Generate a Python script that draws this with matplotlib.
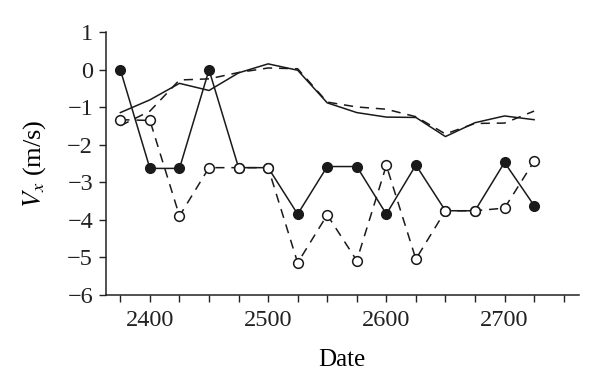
import matplotlib
matplotlib.use("Agg")
import matplotlib.pyplot as plt

plt.rcParams['font.family'] = ['Liberation Serif', 'DejaVu Serif']
plt.rcParams['mathtext.fontset'] = 'stix'

# dates (x axis)
date = [2375, 2400, 2425, 2450, 2475, 2500, 2525, 2550,
        2575, 2600, 2625, 2650, 2675, 2700, 2725]

# solid line, no markers
smooth_a = [-1.14, -0.80, -0.36, -0.55, -0.08, 0.16, -0.01, -0.88,
            -1.14, -1.26, -1.27, -1.78, -1.41, -1.23, -1.33]
# dashed line, no markers
smooth_b = [-1.49, -1.10, -0.27, -0.24, -0.07, 0.05, 0.03, -0.86,
            -0.99, -1.05, -1.25, -1.71, -1.43, -1.42, -1.10]
# solid line, filled circles
filled = [0.0, -2.63, -2.63, 0.0, -2.61, -2.61, -3.85, -2.58,
          -2.58, -3.85, -2.54, -3.76, -3.76, -2.47, -3.62]
# dashed line, open circles
opened = [-1.33, -1.35, -3.90, -2.61, -2.61, -2.61, -5.15, -3.87,
          -5.09, -2.55, -5.05, -3.76, -3.76, -3.69, -2.44]

yticks = [1, 0, -1, -2, -3, -4, -5, -6]

fig = plt.figure(figsize=(6, 3.88), dpi=100)
ax = fig.add_axes([0.176, 0.2405, 0.789, 0.676])

lw = 1.1
ax.plot(date, smooth_a, '-', color='#1a1a1a', lw=lw)
ax.plot(date, smooth_b, '--', color='#1a1a1a', lw=lw, dashes=(6, 4.5))
ax.plot(date, filled, '-', color='#1a1a1a', lw=lw, marker='o',
        markersize=7, markerfacecolor='#1a1a1a', markeredgecolor='#1a1a1a')
ax.plot(date, opened, '--', color='#1a1a1a', lw=lw, dashes=(6, 4.5), marker='o',
        markersize=7, markerfacecolor='white', markeredgecolor='#1a1a1a',
        markeredgewidth=1.1)

ax.set_xlim(2362.5, 2763)
ax.set_ylim(-6, 1)
ax.set_xticks([2400, 2500, 2600, 2700])
ax.set_xticks(range(2375, 2751, 25), minor=True)
ax.set_yticks(yticks)
ax.set_yticklabels(['1', '0', '\u22121', '\u22122', '\u22123', '\u22124', '\u22125', '\u22126'])
ax.tick_params(axis='both', which='both', direction='out', length=5, width=1,
               labelsize=17.5, colors='#222222')
ax.tick_params(axis='x', which='major', pad=6)
ax.tick_params(axis='y', pad=4)

for s in ['top', 'right']:
    ax.spines[s].set_visible(False)
for s in ['left', 'bottom']:
    ax.spines[s].set_linewidth(1.1)
    ax.spines[s].set_color('#222222')

ax.set_xlabel('Date', fontsize=18, labelpad=13)
ax.set_ylabel(r'$V_x$ (m/s)', fontsize=19, labelpad=14)

fig.savefig('out.png', dpi=100)
